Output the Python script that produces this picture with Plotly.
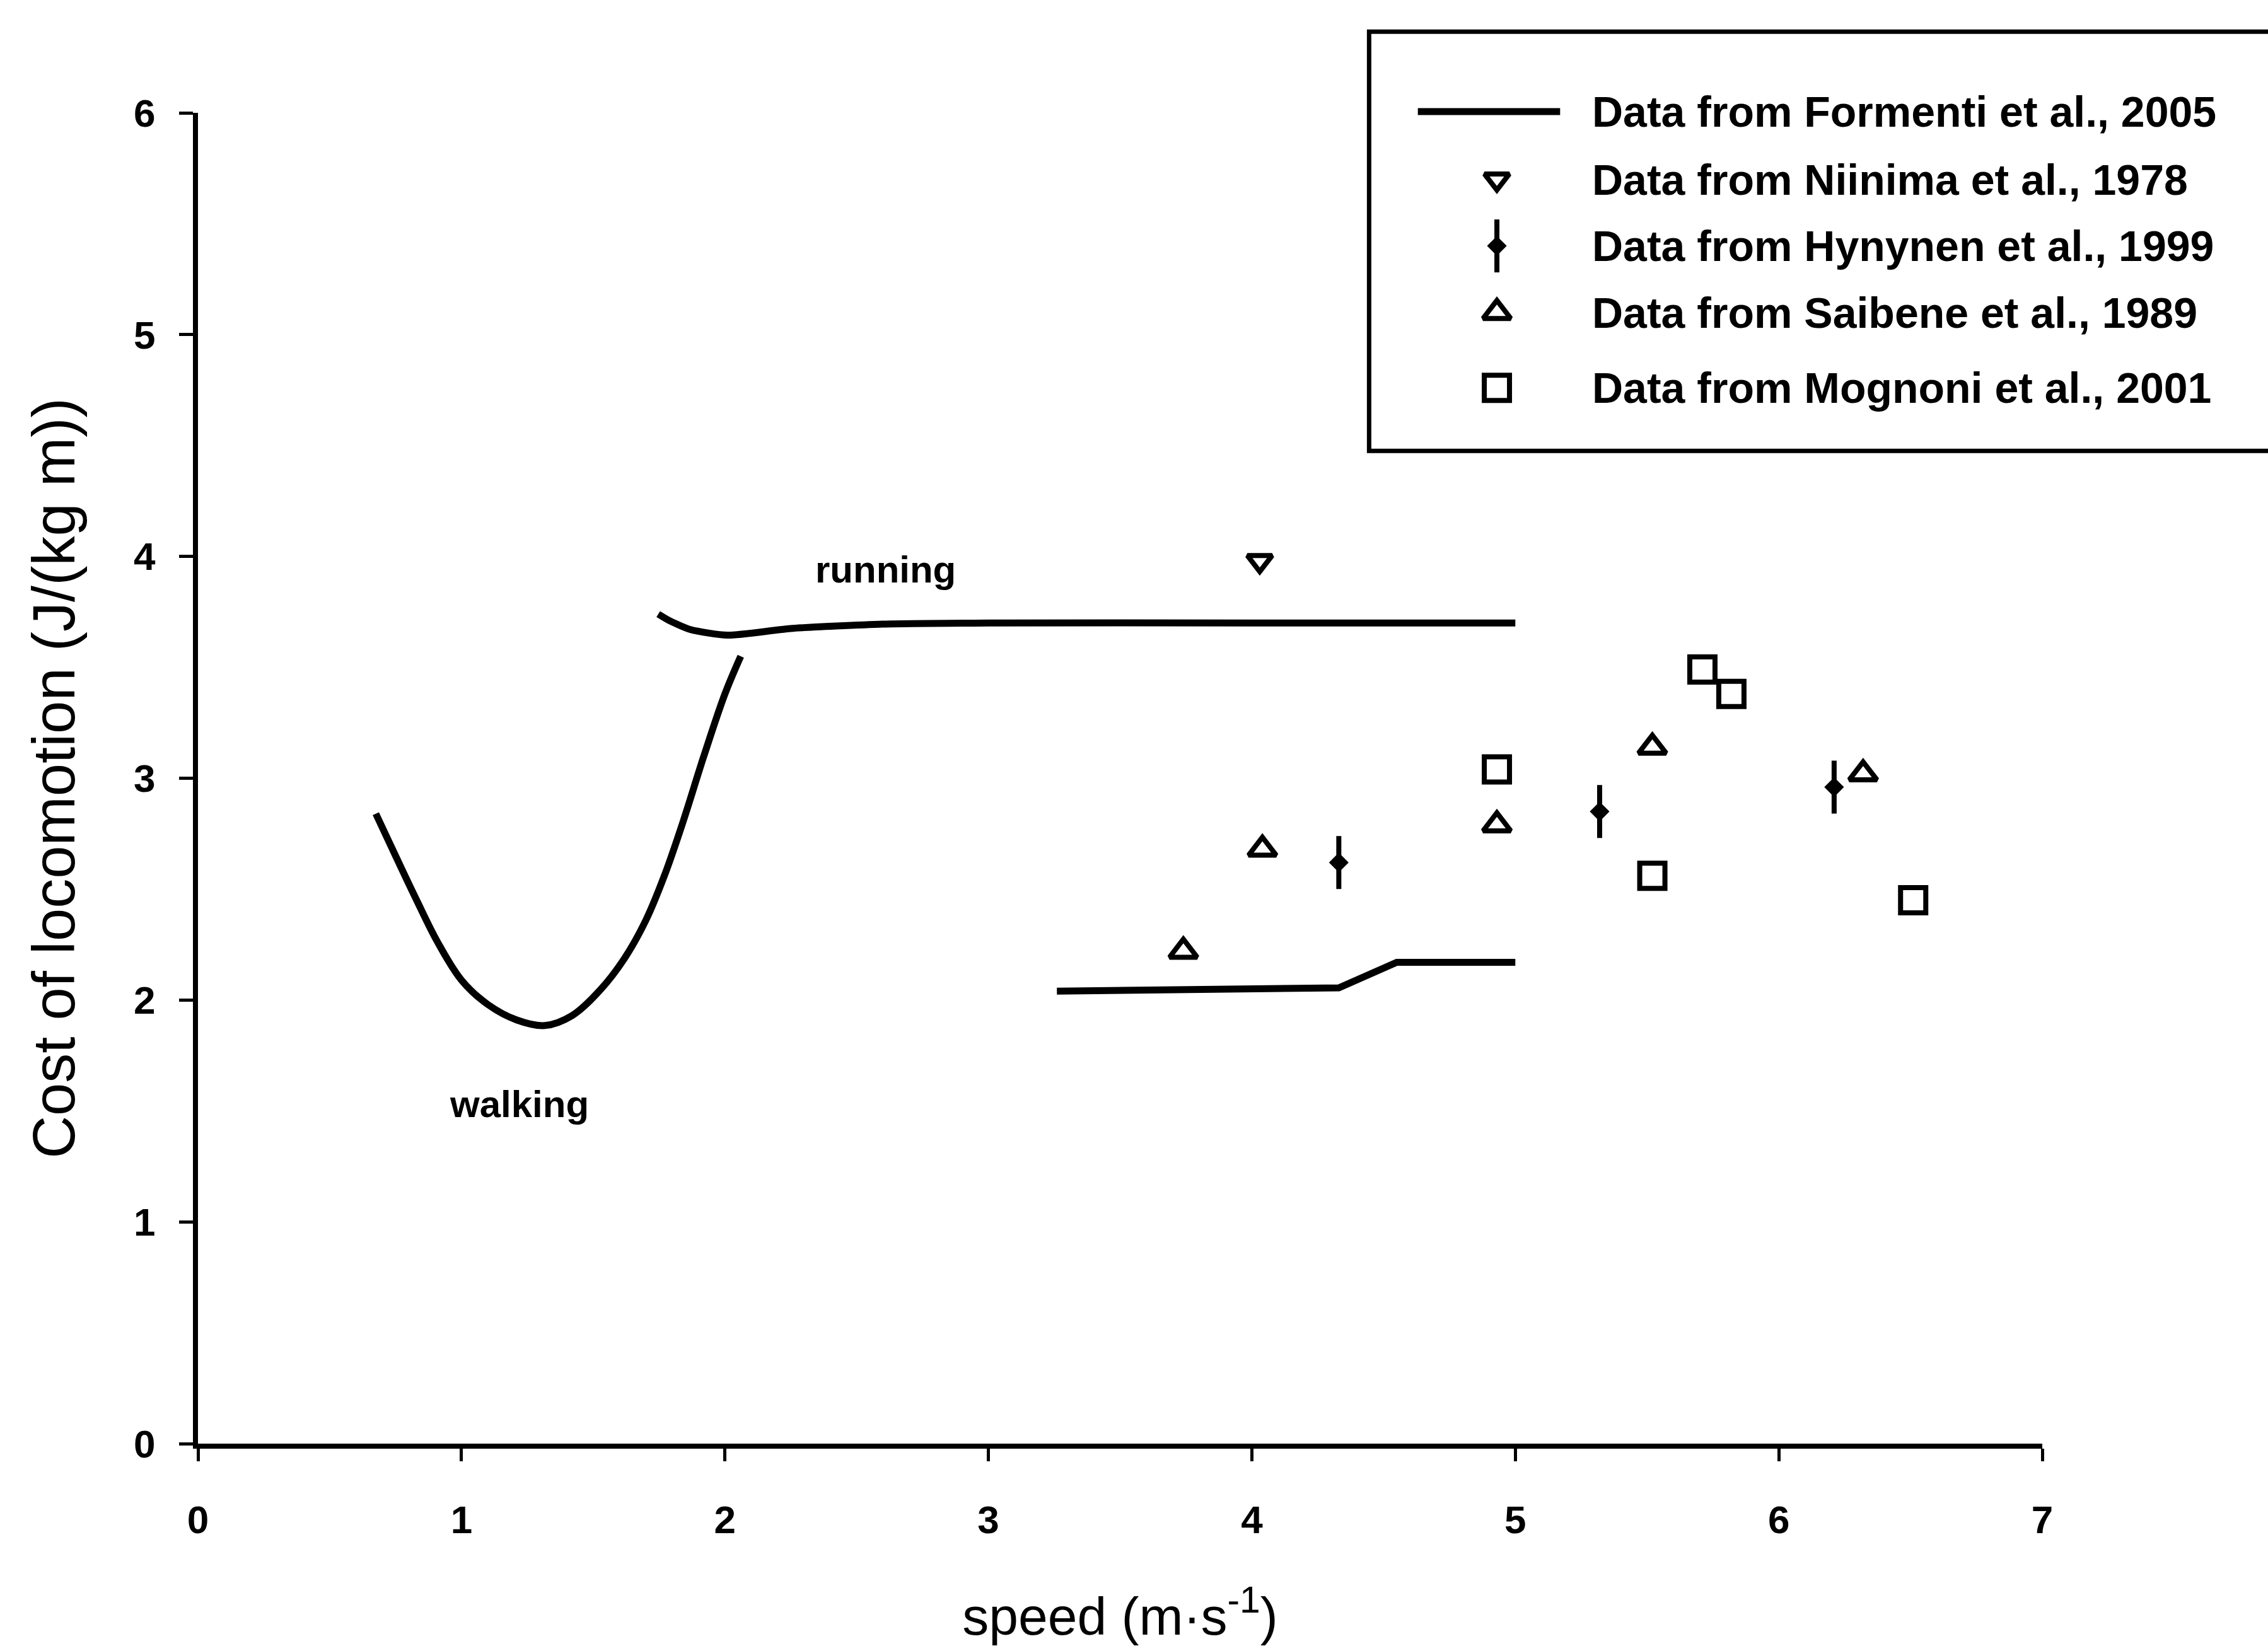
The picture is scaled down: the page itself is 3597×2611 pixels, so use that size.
import plotly.graph_objects as go

# Formenti et al., 2005 curves
walk_x = [0.675, 0.75, 0.83, 0.91, 1.0, 1.1, 1.21, 1.316, 1.42, 1.53, 1.62, 1.70, 1.77, 1.84, 1.92, 2.00, 2.06]
walk_y = [2.84, 2.65, 2.45, 2.26, 2.09, 1.98, 1.91, 1.885, 1.93, 2.05, 2.19, 2.36, 2.56, 2.80, 3.10, 3.38, 3.55]
run_x = [1.747, 1.79, 1.87, 2.01, 2.25, 2.6, 3.0, 4.0, 5.0]
run_y = [3.74, 3.71, 3.67, 3.645, 3.675, 3.695, 3.70, 3.70, 3.70]
low_x = [3.26, 3.7, 4.33, 4.55, 5.0]
low_y = [2.04, 2.045, 2.055, 2.17, 2.17]

# Literature data points
niinima_x = [4.03]
niinima_y = [3.98]
hynynen_x = [4.33, 5.32, 6.21]
hynynen_y = [2.62, 2.85, 2.96]
saibene_x = [3.74, 4.04, 4.93, 5.52, 6.32]
saibene_y = [2.22, 2.68, 2.79, 3.14, 3.02]
mognoni_x = [4.93, 5.71, 5.82, 5.52, 6.51]
mognoni_y = [3.04, 3.49, 3.38, 2.56, 2.45]

x_ticks = [0, 1, 2, 3, 4, 5, 6, 7]
y_ticks = [0, 1, 2, 3, 4, 5, 6]

legend_labels = ["Data from Formenti et al., 2005", "Data from Niinima et al., 1978",
                 "Data from Hynynen et al., 1999", "Data from Saibene et al., 1989",
                 "Data from Mognoni et al., 2001"]
legend_rows_y = [6.006, 5.70, 5.40, 5.10, 4.76]
legend_marker_x = 4.93
legend_line_x = [4.63, 5.17]
legend_text_x = 5.286

XMAX, YMAX = 7.0, 6.0
BLACK = "black"
LW = 11

fig = go.Figure()
fig.add_trace(go.Scatter(x=walk_x, y=walk_y, mode="lines", line=dict(color=BLACK, width=LW, shape="spline", smoothing=1.0),
                         showlegend=False, hoverinfo="skip"))
fig.add_trace(go.Scatter(x=run_x, y=run_y, mode="lines", line=dict(color=BLACK, width=LW, shape="spline", smoothing=0.6),
                         showlegend=False, hoverinfo="skip"))
fig.add_trace(go.Scatter(x=low_x, y=low_y, mode="lines", line=dict(color=BLACK, width=LW),
                         showlegend=False, hoverinfo="skip"))

def add_points(xs, ys, symbol, size, lw):
    fig.add_trace(go.Scatter(x=xs, y=ys, mode="markers", cliponaxis=False, showlegend=False,
                             marker=dict(symbol=symbol, size=size, color=BLACK,
                                         line=dict(color=BLACK, width=lw))))

def add_hynynen(xs, ys):
    add_points(xs, ys, "line-ns", 60, 8)
    add_points(xs, ys, "diamond", 24, 0)

TRI, SQ, LWM = 38, 40, 8
add_points(niinima_x, niinima_y, "triangle-down-open", 34, LWM)
add_hynynen(hynynen_x, hynynen_y)
add_points(saibene_x, saibene_y, "triangle-up-open", TRI, LWM)
add_points(mognoni_x, mognoni_y, "square-open", SQ, LWM)

# manual legend markers
add_points([legend_marker_x], [legend_rows_y[1]], "triangle-down-open", 34, LWM)
add_hynynen([legend_marker_x], [legend_rows_y[2]])
add_points([legend_marker_x], [legend_rows_y[3]], "triangle-up-open", TRI, LWM)
add_points([legend_marker_x], [legend_rows_y[4]], "square-open", SQ, LWM)

annos = []
for lab, yy in zip(legend_labels, legend_rows_y):
    annos.append(dict(x=legend_text_x / XMAX, y=yy / YMAX, xref="paper", yref="paper", text=lab, showarrow=False,
                      xanchor="left", yanchor="middle",
                      font=dict(family="Liberation Sans", size=68, color=BLACK, weight="bold")))
annos.append(dict(x=2.61, y=3.94, text="running", showarrow=False, xanchor="center", yanchor="middle",
                  font=dict(family="Liberation Sans", size=60, color=BLACK, weight="bold")))
annos.append(dict(x=1.22, y=1.53, text="walking", showarrow=False, xanchor="center", yanchor="middle",
                  font=dict(family="Liberation Sans", size=60, color=BLACK, weight="bold")))

shapes = [
    dict(type="rect", xref="paper", yref="paper", x0=0.635, x1=1.13, y0=0.746, y1=1.061,
         line=dict(color=BLACK, width=7), fillcolor="rgba(0,0,0,0)", layer="below"),
    dict(type="line", xref="paper", yref="paper", x0=legend_line_x[0] / XMAX, x1=legend_line_x[1] / XMAX,
         y0=legend_rows_y[0] / YMAX, y1=legend_rows_y[0] / YMAX, line=dict(color=BLACK, width=LW)),
]

fig.update_layout(
    width=3597, height=2611,
    margin=dict(l=314, r=358, t=179, b=317),
    paper_bgcolor="white", plot_bgcolor="white",
    annotations=annos,
    shapes=shapes,
    xaxis=dict(range=[0, XMAX], tickvals=x_ticks, ticktext=[str(t) for t in x_ticks],
               showline=True, linecolor=BLACK, linewidth=8, ticks="outside", ticklen=20, tickwidth=5,
               tickcolor=BLACK, showgrid=False, zeroline=False, ticklabelstandoff=40,
               tickfont=dict(family="Liberation Sans", size=62, color=BLACK, weight="bold"),
               title=dict(text="speed (m·s<sup>-1</sup>)", standoff=95,
                          font=dict(family="Liberation Sans", size=84, color=BLACK))),
    yaxis=dict(range=[0, YMAX], tickvals=y_ticks, ticktext=[str(t) for t in y_ticks],
               showline=True, linecolor=BLACK, linewidth=8, ticks="outside", ticklen=22, tickwidth=5,
               tickcolor=BLACK, showgrid=False, zeroline=False, ticklabelstandoff=25,
               tickfont=dict(family="Liberation Sans", size=62, color=BLACK, weight="bold"),
               title=dict(text="Cost of locomotion (J/(kg m))", standoff=65,
                          font=dict(family="Liberation Sans", size=94, color=BLACK))),
)

fig.write_html("out.html")
